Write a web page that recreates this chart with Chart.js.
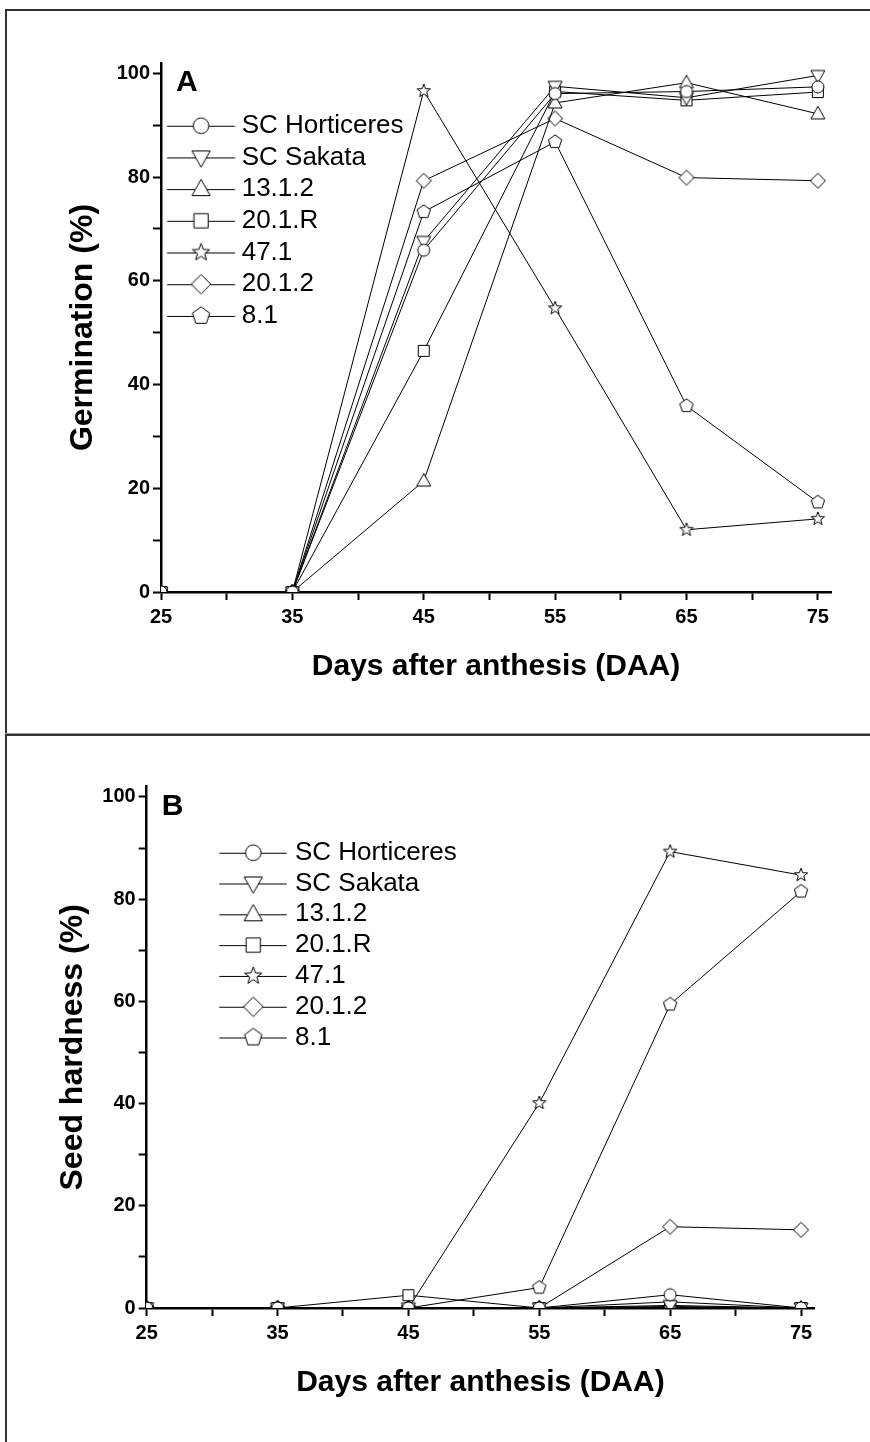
<!DOCTYPE html>
<html>
<head>
<meta charset="utf-8">
<script src="https://cdn.jsdelivr.net/npm/chart.js@4.4.1/dist/chart.umd.min.js"></script>
<style>
  html, body { margin: 0; padding: 0; background: #fff; }
  body { width: 870px; height: 1442px; position: relative; overflow: hidden; }
  #frame { position: absolute; left: 5px; top: 9px; width: 900px; height: 1500px; border-left: 2px solid #333; border-top: 2px solid #333; }
  #divider { position: absolute; left: 5px; top: 733px; width: 900px; height: 2px; background: #333; border-top: 1px solid #999; }
  canvas { position: absolute; left: 0; }
  #chartA { top: 0; }
  #chartB { top: 735px; }
</style>
</head>
<body>
<div id="frame"></div>
<div id="divider"></div>
<canvas id="chartA" width="870" height="735"></canvas>
<canvas id="chartB" width="870" height="707"></canvas>
<script>
var days = [25, 35, 45, 55, 65, 75];
var lineNames = ['SC Horticeres', 'SC Sakata', '13.1.2', '20.1.R', '47.1', '20.1.2', '8.1'];
var markerShapes = ['circle', 'down', 'up', 'square', 'star', 'diamond', 'pentagon'];

// panel A - germination (%)
var germHorticeres = [0, 0, 65.9, 96.1, 96.5, 97.4];
var germSakata     = [0, 0, 67.6, 97.5, 95.3, 99.6];
var germ1312       = [0, 0, 21.4, 94.3, 98.2, 92.2];
var germ201R       = [0, 0, 46.5, 96.5, 94.8, 96.4];
var germ471        = [0, 0, 96.6, 54.7, 12.0, 14.1];
var germ2012       = [0, 0, 79.3, 91.3, 79.9, 79.3];
var germ81         = [0, 0, 73.3, 86.8, 35.9, 17.3];

// panel B - seed hardness (%)
var hardHorticeres = [0, 0, 0, 0, 2.6, 0];
var hardSakata     = [0, 0, 0, 0, 0.5, 0];
var hard1312       = [0, 0, 0, 0, 1.2, 0];
var hard201R       = [0, 0, 2.5, 0, 0.3, 0];
var hard471        = [0, 0, 0, 40.1, 89.3, 84.7];
var hard2012       = [0, 0, 0, 0, 15.9, 15.3];
var hard81         = [0, 0, 0, 4.0, 59.4, 81.5];

// labelled ticks; unlabelled minor ticks sit halfway between them
var xTicks = [25, 35, 45, 55, 65, 75];
var yTicks = [0, 20, 40, 60, 80, 100];

Chart.defaults.font.family = "'Liberation Sans', Arial, sans-serif";
Chart.defaults.color = '#000';

function withMinor(major) {
  var out = [];
  major.forEach(function (v, i) {
    out.push({ value: v });
    if (i < major.length - 1) out.push({ value: (v + major[i + 1]) / 2 });
  });
  return out;
}

function markerPath(ctx, shape, cx, cy, s) {
  var i, a, r;
  ctx.beginPath();
  if (shape === 'circle') {
    ctx.arc(cx, cy, 6 * s, 0, Math.PI * 2);
  } else if (shape === 'up') {
    ctx.moveTo(cx, cy - 7.5 * s); ctx.lineTo(cx + 7 * s, cy + 5 * s); ctx.lineTo(cx - 7 * s, cy + 5 * s);
  } else if (shape === 'down') {
    ctx.moveTo(cx, cy + 7.5 * s); ctx.lineTo(cx + 7 * s, cy - 5 * s); ctx.lineTo(cx - 7 * s, cy - 5 * s);
  } else if (shape === 'square') {
    ctx.rect(cx - 5.5 * s, cy - 5.5 * s, 11 * s, 11 * s);
  } else if (shape === 'diamond') {
    ctx.moveTo(cx, cy - 7.5 * s); ctx.lineTo(cx + 7.5 * s, cy); ctx.lineTo(cx, cy + 7.5 * s); ctx.lineTo(cx - 7.5 * s, cy);
  } else if (shape === 'star') {
    for (i = 0; i < 10; i++) {
      r = (i % 2 ? 2.9 : 7) * s;
      a = -Math.PI / 2 + i * Math.PI / 5;
      ctx.lineTo(cx + r * Math.cos(a), cy + r * Math.sin(a));
    }
  } else if (shape === 'pentagon') {
    for (i = 0; i < 5; i++) {
      a = -Math.PI / 2 + i * 2 * Math.PI / 5;
      ctx.lineTo(cx + 7 * s * Math.cos(a), cy + 7 * s * Math.sin(a));
    }
  }
  ctx.closePath();
  ctx.fillStyle = '#fff';
  ctx.fill();
  ctx.lineWidth = 1;
  ctx.strokeStyle = '#000';
  ctx.stroke();
}

function pointImage(shape) {
  var c = document.createElement('canvas');
  c.width = 20; c.height = 20;
  markerPath(c.getContext('2d'), shape, 10, 10, 1);
  return c;
}

// legend symbol: short line with a slightly larger marker on it
function legendIcon(shape, w, x1, x2, mx) {
  var c = document.createElement('canvas');
  c.width = w; c.height = 24;
  var ctx = c.getContext('2d');
  ctx.beginPath();
  ctx.moveTo(x1, 12.5); ctx.lineTo(x2, 12.5);
  ctx.lineWidth = 1; ctx.strokeStyle = '#000';
  ctx.stroke();
  markerPath(ctx, shape, mx, 12, 1.3);
  return c;
}

function buildChart(id, o) {
  var datasets = lineNames.map(function (name, i) {
    return {
      label: name,
      data: days.map(function (d, j) { return { x: d, y: o.values[i][j] }; }),
      borderColor: '#000',
      borderWidth: 1,
      pointStyle: pointImage(markerShapes[i]),
      pointRadius: 7,
      pointHoverRadius: 7,
      fill: false,
      tension: 0
    };
  });

  var axisGrid = { drawOnChartArea: false, drawTicks: true, tickLength: 8, tickWidth: 2, tickColor: '#000' };
  var axisBorder = { display: true, color: '#000', width: 2.5 };

  return new Chart(document.getElementById(id), {
    type: 'line',
    data: { datasets: datasets },
    options: {
      responsive: false,
      animation: false,
      events: [],
      layout: { padding: { top: o.top, right: o.right, left: 0, bottom: 0 } },
      plugins: {
        tooltip: { enabled: false },
        legend: {
          position: 'chartArea',
          align: 'start',
          title: {
            display: true, text: o.letter, position: 'start', color: '#000',
            font: { size: 30, weight: 'bold' },
            padding: { top: o.top + 5, bottom: o.titleGap }
          },
          labels: {
            usePointStyle: true,
            pointStyleWidth: o.boxWidth,
            padding: o.rowPad,
            color: '#000',
            font: { size: 26 },
            generateLabels: function (chart) {
              var items = Chart.defaults.plugins.legend.labels.generateLabels(chart);
              items.forEach(function (it, k) {
                it.pointStyle = legendIcon(markerShapes[k], o.icon[0], o.icon[1], o.icon[2], o.icon[3]);
              });
              return items;
            }
          }
        }
      },
      scales: {
        x: {
          type: 'linear', min: 25, max: 76,
          afterFit: function (s) { s.height = o.xAxisHeight; },
          afterBuildTicks: function (s) { s.ticks = withMinor(xTicks); },
          ticks: {
            autoSkip: false, maxRotation: 0, padding: 5,
            font: { size: 20, weight: 'bold' },
            callback: function (v) { return xTicks.indexOf(v) >= 0 ? String(v) : ''; }
          },
          grid: axisGrid,
          border: axisBorder,
          title: {
            display: true, text: 'Days after anthesis (DAA)',
            font: { size: 30, weight: 'bold' },
            padding: { top: 0, bottom: o.xTitlePad }
          }
        },
        y: {
          min: 0, max: 102,
          afterFit: function (s) { s.width = o.yAxisWidth; },
          afterBuildTicks: function (s) { s.ticks = withMinor(yTicks); },
          ticks: {
            autoSkip: false, padding: 3,
            font: { size: 20, weight: 'bold' },
            callback: function (v) { return yTicks.indexOf(v) >= 0 ? String(v) : ''; }
          },
          grid: axisGrid,
          border: axisBorder,
          title: {
            display: true, text: o.yTitle,
            font: { size: 32, weight: 'bold' },
            padding: { top: o.yTitlePad, bottom: 0 }
          }
        }
      }
    }
  });
}

buildChart('chartA', {
  values: [germHorticeres, germSakata, germ1312, germ201R, germ471, germ2012, germ81],
  letter: '\u2002A', yTitle: 'Germination (%)',
  top: 63, right: 39, yAxisWidth: 161, xAxisHeight: 143,
  titleGap: 3, rowPad: 5.7, boxWidth: 62, icon: [80, 9.3, 77.3, 43.3],
  yTitlePad: 64, xTitlePad: 50
});

buildChart('chartB', {
  values: [hardHorticeres, hardSakata, hard1312, hard201R, hard471, hard2012, hard81],
  letter: '\u2002B', yTitle: 'Seed hardness (%)',
  top: 51.7, right: 55.9, yAxisWidth: 146.7, xAxisHeight: 134,
  titleGap: 7.2, rowPad: 4.8, boxWidth: 130.5, icon: [150, 77.5, 145, 111.5],
  yTitlePad: 54, xTitlePad: 41
});
</script>
</body>
</html>
